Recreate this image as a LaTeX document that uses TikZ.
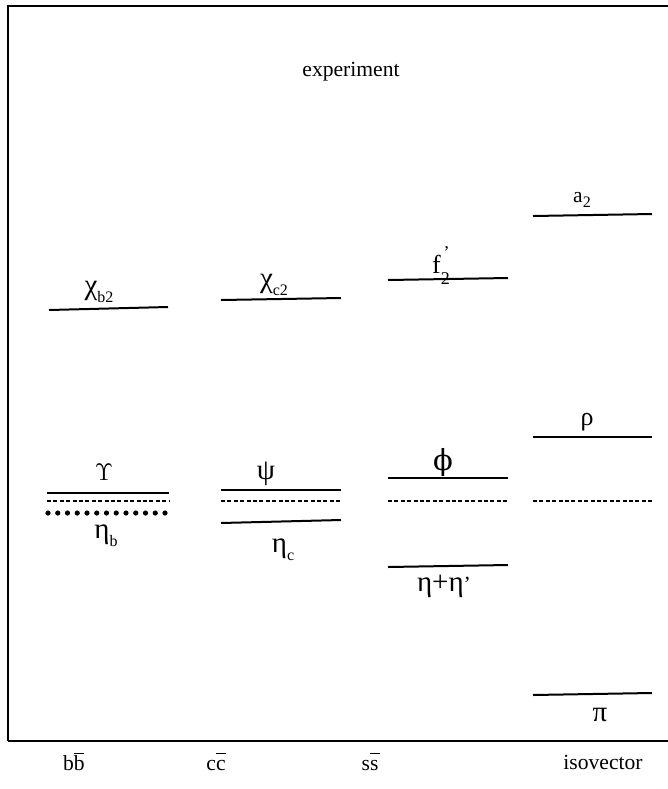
\documentclass[tikz,border=0pt]{standalone}
\usepackage{fontspec}
\setmainfont{Liberation Serif}
\newfontfamily\dvs{DejaVu Serif}
\newcommand\gk[1]{{\fontsize{14.5}{16}\selectfont #1}}
\newcommand\sub[1]{\raisebox{-0.35em}{\fontsize{8}{9}\selectfont #1}}
\newcommand\qbar[1]{\rlap{\raisebox{0.78em}{\rule{0.46em}{0.06em}}}#1}
\begin{document}
\begin{tikzpicture}[x=0.5pt,y=-0.5pt,
  lvl/.style={line width=1pt},
  dsh/.style={line width=0.8pt,dash pattern=on 2pt off 1.2pt},
  lab/.style={font=\fontsize{10.8}{12}\selectfont,inner sep=0pt}]
\useasboundingbox (0,0) rectangle (668,789);
\draw[line width=1pt] (8,741) -- (8,6) -- (700,6);
\draw[line width=1pt] (8,741) -- (700,741);
\node[lab] (title) at (351,72) {experiment};
% b bbar
\node[lab] (chib) at (99,292) {\gk{χ}\sub{b2}};
\draw[lvl] (49,310) -- (168,307);
\node[lab] (ups) at (104,472) {\fontsize{12}{13}\selectfont$\Upsilon$};
\draw[lvl] (47,493) -- (169,493);
\draw[dsh] (47,501) -- (169,501);
\foreach \i in {0,...,12} \fill (48+9.75*\i,513) circle (2.6);
\node[lab] (etab) at (106,536) {\gk{η}\sub{b}};
% c cbar
\node[lab] (chic) at (274,285) {\gk{χ}\sub{c2}};
\draw[lvl] (221,300) -- (341,298);
\node[lab] (psi) at (266,474) {\gk{ψ}};
\draw[lvl] (221,490) -- (341,490);
\draw[dsh] (221,501) -- (341,501);
\draw[lvl] (221,523) -- (341,520);
\node[lab] (etac) at (283,550) {\gk{η}\sub{c}};
% s sbar
\node[lab] (f2) at (441,266) {\fontsize{13}{14}\selectfont f\rlap{\raisebox{0.55em}{\fontsize{9}{10}\selectfont\hspace{0.15em}’}}\raisebox{-0.45em}{\fontsize{9}{10}\selectfont 2}};
\draw[lvl] (388,280) -- (508,278);
\node[lab] (phi) at (443,462) {\gk{\dvs ϕ}};
\draw[lvl] (388,478) -- (508,478);
\draw[dsh] (388,501) -- (508,501);
\draw[lvl] (388,567) -- (508,565);
\node[lab] (etaeta) at (444,586) {\gk{η+η}’};
% isovector
\node[lab] (a2) at (582,200) {a\raisebox{-0.25em}{\fontsize{8}{9}\selectfont 2}};
\draw[lvl] (533,216) -- (652,214);
\node[lab] (rho) at (587,422) {\fontsize{13}{14}\selectfont ρ};
\draw[lvl] (533,437) -- (652,437);
\draw[dsh] (533,501) -- (652,501);
\draw[lvl] (533,695) -- (652,693);
\node[lab] (pi) at (600,715) {\gk{π}};
% bottom labels
\node[lab] (bb) at (74,762) {b\qbar{b}};
\node[lab] (cc) at (216,762) {c\qbar{c}};
\node[lab] (ss) at (370,762) {s\qbar{s}};
\node[lab] (iso) at (603,762) {isovector};
\end{tikzpicture}
\end{document}
